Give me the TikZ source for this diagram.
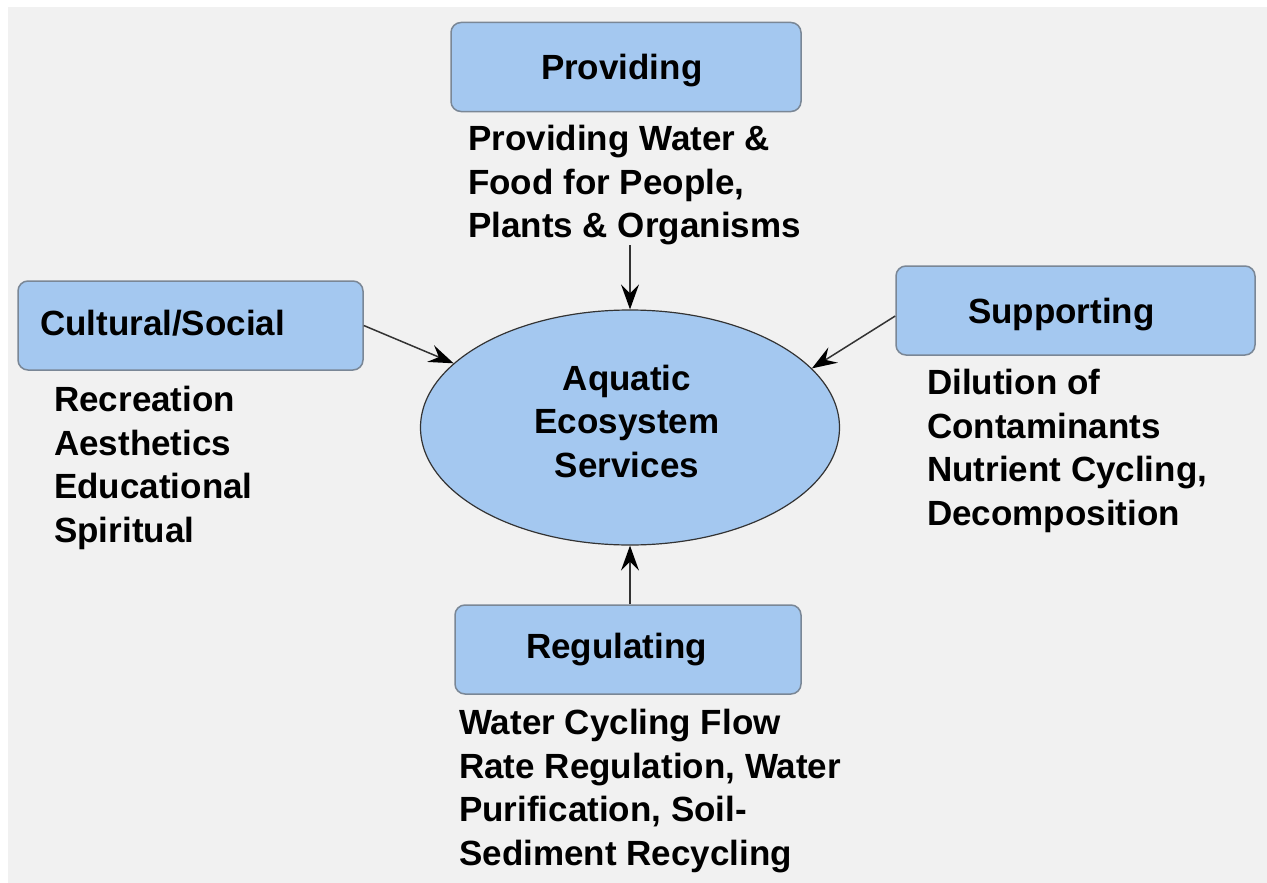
\documentclass[tikz,border=0pt]{standalone}
\usepackage{fontspec}
\setmainfont{Liberation Sans}
\usetikzlibrary{arrows.meta,shapes.geometric}
\definecolor{pagegray}{HTML}{F1F1F1}
\definecolor{boxfill}{HTML}{A4C8F0}
\definecolor{boxline}{HTML}{7A8796}
\definecolor{arrowline}{HTML}{333333}
\begin{document}
\begin{tikzpicture}[x=1pt,y=-1pt,
  txt/.style={font=\fontsize{35pt}{43.5pt}\selectfont\bfseries, text=black},
  catbox/.style={txt, draw=boxline, line width=1.5pt, fill=boxfill,
    rounded corners=10pt, minimum height=89pt, align=left, inner ysep=0pt},
  hub/.style={ellipse, draw=arrowline, line width=1.2pt, fill=boxfill,
    minimum width=419pt, minimum height=235pt, inner sep=0pt},
  desc/.style={txt, align=left, inner sep=0pt, anchor=north west},
  feed/.style={draw=arrowline, line width=1.5pt,
    -{Stealth[length=25pt,width=18pt,inset=9pt,color=black]}}
]
% page and backdrop
\useasboundingbox (0,0) rectangle (1267,883);
\fill[white] (0,0) rectangle (1267,883);
\fill[pagegray] (8,7) rectangle (1267,883);

% central ellipse and its caption
\node[hub] (eco) at (630,427.5) {};
\node[txt, align=center, inner sep=0pt] (ecotxt) at (627,421) {Aquatic\\Ecosystem\\Services};

% service category boxes
\node[catbox, inner xsep=90pt, text width=170pt, text depth=0pt] (prov) at (626,67) {Providing};
\node[catbox, inner xsep=22pt, text width=301pt, text depth=6pt] (cult) at (190.5,325.5) {Cultural/Social};
\node[catbox, inner xsep=72pt, text width=215pt, text depth=0pt] (supp) at (1075.5,310.5) {Supporting};
\node[catbox, inner xsep=71pt, text width=204pt] (regu) at (628,649.5) {Regulating};

% descriptions
\node[desc] (provtxt) at (468,125) {Providing Water \&\\Food for People,\\Plants \& Organisms};
\node[desc] (culttxt) at (54,386) {Recreation\\Aesthetics\\Educational\\Spiritual};
\node[desc] (supptxt) at (927,369) {Dilution of\\Contaminants\\Nutrient Cycling,\\Decomposition};
\node[desc] (regutxt) at (459,709) {Water Cycling Flow\\Rate Regulation, Water\\Purification, Soil-\\Sediment Recycling};

% connectors into the ellipse
\draw[feed] (provtxt.south -| eco.north) -- (eco.north);
\draw[feed] (eco.south |- regu.north) -- (eco.south);
\draw[feed] (cult.east) -- (eco.160);
\draw[feed] ([yshift=-5.5pt]supp.west) -- (eco.18);
\end{tikzpicture}
\end{document}
